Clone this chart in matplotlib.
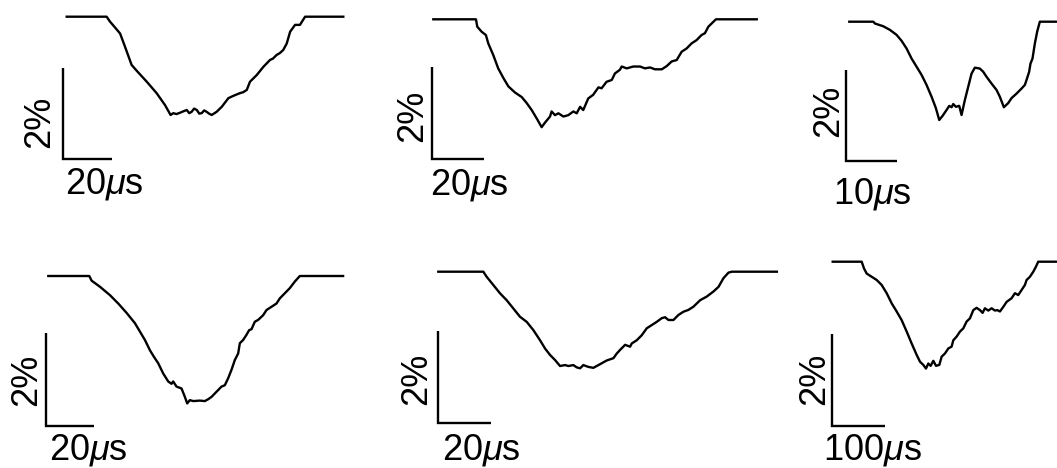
import numpy as np
import matplotlib.pyplot as plt

plt.rcParams['font.family'] = 'Liberation Sans'
plt.rcParams['mathtext.fontset'] = 'custom'
plt.rcParams['mathtext.rm'] = 'Liberation Sans'
plt.rcParams['mathtext.it'] = 'Liberation Sans:italic'

# transit traces: time (us) and relative intensity change (%)
t1 = [0, 16.3, 17.7, 20.4, 21.8, 23.8, 26.5, 28.6, 32.7, 36.7, 40.1, 42.4, 43.5, 44.8, 46.3, 47.6,
      49.0, 50.0, 51.0, 52.0, 53.1, 54.1, 55.1, 56.1, 57.1, 58.1, 59.2, 61.2, 63.3, 66.0, 68.0,
      70.7, 72.0, 73.5, 74.8, 77.6, 80.3, 83.0, 84.2, 85.7, 87.0, 88.4, 89.8, 91.2, 93.2, 95.2,
      97.3, 112.9]
f1 = [0, 0, -0.11, -0.28, -0.37, -0.66, -1.06, -1.19, -1.43, -1.68, -1.94, -2.16, -2.12, -2.14,
      -2.11, -2.08, -2.05, -2.12, -2.09, -2.02, -2.05, -2.13, -2.12, -2.06, -2.09, -2.13, -2.16,
      -2.09, -1.98, -1.79, -1.74, -1.68, -1.66, -1.61, -1.43, -1.28, -1.10, -0.95, -0.92, -0.84,
      -0.80, -0.73, -0.59, -0.33, -0.18, -0.18, 0, 0]

t2 = [0, 16.3, 16.8, 18.5, 20.1, 21.0, 22.9, 24.8, 26.8, 28.7, 31.2, 33.8, 35.7, 37.6, 39.5, 41.4,
      42.7, 44.6, 45.2, 46.5, 47.8, 49.7, 51.6, 53.5, 54.8, 56.1, 57.3, 59.2, 61.1, 63.1, 64.3,
      66.2, 68.2, 69.4, 71.3, 72.0, 73.9, 76.4, 79.0, 80.9, 82.8, 84.7, 87.3, 89.2, 91.1, 93.0,
      94.9, 96.8, 98.7, 100.6, 102.5, 103.8, 105.1, 108.0, 123.6]
f2 = [0, 0, -0.16, -0.27, -0.34, -0.52, -0.77, -1.06, -1.27, -1.45, -1.58, -1.68, -1.81, -1.96,
      -2.14, -2.33, -2.23, -2.10, -1.99, -2.07, -2.03, -2.10, -2.07, -1.99, -2.03, -1.89, -1.96,
      -1.71, -1.63, -1.47, -1.49, -1.35, -1.31, -1.17, -1.09, -1.02, -1.06, -1.02, -1.02, -1.06,
      -1.04, -1.08, -1.08, -1.01, -0.91, -0.88, -0.70, -0.63, -0.52, -0.45, -0.34, -0.30, -0.16,
      0, 0]

t3 = [0, 4.68, 5.0, 6.62, 7.92, 9.22, 10.19, 11.17, 12.14, 13.12, 14.09, 15.06, 16.04, 16.88,
      17.53, 18.18, 18.96, 19.48, 19.94, 20.26, 20.78, 21.43, 21.88, 22.53, 23.18, 23.83, 24.48,
      25.45, 26.10, 26.75, 27.73, 28.70, 29.35, 30.13, 30.97, 31.62, 32.60, 33.57, 34.22, 34.55,
      35.06, 35.32, 35.71, 36.17, 36.62, 37.14, 40.45]
f3 = [0, 0, -0.04, -0.10, -0.18, -0.29, -0.42, -0.59, -0.81, -0.99, -1.17, -1.39, -1.65, -1.90,
      -2.16, -2.07, -1.94, -1.85, -1.88, -1.81, -1.87, -1.85, -2.05, -1.72, -1.43, -1.14, -1.01,
      -1.03, -1.10, -1.21, -1.36, -1.50, -1.65, -1.88, -1.79, -1.68, -1.58, -1.47, -1.39, -1.28,
      -1.10, -0.92, -0.81, -0.48, -0.22, 0, 0]

t4 = [0, 16.97, 17.93, 21.38, 25.52, 28.97, 32.41, 35.86, 37.93, 40.0, 42.07, 43.72, 45.52, 47.59,
      49.66, 51.03, 51.72, 53.10, 55.17, 56.55, 57.52, 58.62, 60.0, 62.76, 64.83, 66.21, 67.59,
      69.66, 71.72, 73.10, 74.48, 75.86, 77.24, 78.62, 79.31, 80.69, 82.07, 83.17, 84.14, 85.52,
      86.90, 88.97, 90.34, 92.41, 94.48, 95.86, 97.93, 100.0, 102.07, 104.14, 122.07]
f4 = [0, 0, -0.10, -0.23, -0.41, -0.59, -0.79, -1.01, -1.19, -1.37, -1.59, -1.73, -1.87, -2.09,
      -2.26, -2.31, -2.26, -2.37, -2.41, -2.59, -2.73, -2.66, -2.68, -2.67, -2.68, -2.64, -2.59,
      -2.48, -2.37, -2.34, -2.19, -2.01, -1.80, -1.66, -1.44, -1.37, -1.26, -1.16, -1.14, -0.98,
      -0.94, -0.84, -0.73, -0.66, -0.59, -0.48, -0.37, -0.26, -0.12, 0, 0]

t5 = [0, 17.09, 18.35, 20.89, 23.42, 25.95, 28.48, 31.01, 33.54, 36.08, 38.61, 40.51, 42.41, 44.30,
      46.20, 48.10, 49.37, 51.27, 52.53, 53.80, 55.06, 56.96, 58.86, 60.13, 62.03, 63.92, 66.46,
      67.72, 68.99, 70.89, 72.78, 73.42, 75.32, 77.22, 79.11, 81.01, 82.91, 84.81, 86.08, 87.34,
      89.24, 91.14, 93.04, 94.94, 96.84, 99.37, 101.90, 104.43, 106.33, 108.23, 110.13, 111.39,
      128.5]
f5 = [0, 0, -0.11, -0.29, -0.47, -0.62, -0.80, -0.98, -1.09, -1.27, -1.49, -1.67, -1.81, -1.92,
      -2.05, -2.03, -2.05, -2.03, -2.08, -2.10, -2.03, -2.07, -2.09, -2.05, -1.99, -1.93, -1.88,
      -1.78, -1.70, -1.59, -1.63, -1.56, -1.49, -1.38, -1.23, -1.16, -1.09, -1.01, -0.99, -1.05,
      -1.05, -0.94, -0.87, -0.83, -0.76, -0.62, -0.54, -0.43, -0.33, -0.14, -0.02, 0, 0]

t6 = [0, 54.4, 58.8, 63.8, 73.1, 82.5, 91.9, 101.3, 110.6, 120.0, 129.4, 138.8, 148.1, 157.5,
      163.8, 170.0, 175.0, 179.4, 183.8, 188.8, 193.8, 200.0, 204.4, 210.6, 216.9, 223.1, 226.3,
      232.5, 238.8, 245.0, 251.3, 257.5, 263.8, 270.0, 276.3, 281.3, 285.6, 291.9, 298.1, 304.4,
      308.8, 313.8, 320.0, 326.3, 335.6, 341.9, 348.1, 354.4, 360.6, 363.8, 370.0, 376.3, 381.3,
      385.6, 420.6]
f6 = [0, 0, -0.15, -0.26, -0.33, -0.40, -0.51, -0.69, -0.91, -1.09, -1.28, -1.53, -1.79, -2.04,
      -2.19, -2.26, -2.34, -2.23, -2.28, -2.17, -2.28, -2.26, -2.08, -2.01, -1.90, -1.86, -1.72,
      -1.64, -1.53, -1.46, -1.31, -1.24, -1.06, -1.01, -1.06, -1.12, -1.02, -1.07, -1.02, -1.07,
      -1.06, -1.09, -0.99, -0.88, -0.80, -0.69, -0.73, -0.62, -0.51, -0.40, -0.33, -0.22, -0.11,
      0, 0]

times = [t1, t2, t3, t4, t5, t6]
fluxes = [f1, f2, f3, f4, f5, f6]

# scale bars
bar_pct = 2
bar_us = [20, 20, 10, 20, 20, 100]
pct_label = '2%'
time_labels = ['20$\\mu$s', '20$\\mu$s', '10$\\mu$s', '20$\\mu$s', '20$\\mu$s', '100$\\mu$s']

W, H = 1057, 468

# placement in pixels: trace origin (x0, y0), px per us, px per %,
# scale bar corner (bx, by), '2%' centre, time label left edge and baseline
layout = [
    dict(x0=66.7, y0=16.7, sx=2.45, sy=45.5, bx=63, by=159, pc=(40, 121.7), tl=(65, 193)),
    dict(x0=433.3, y0=19.3, sx=2.617, sy=46.3, bx=431.7, by=159.3, pc=(413, 115.8), tl=(430, 194)),
    dict(x0=849.3, y0=21.7, sx=5.13, sy=45.5, bx=846, by=161, pc=(828.3, 111.3), tl=(833.3, 204)),
    dict(x0=48.3, y0=276, sx=2.415, sy=46.67, bx=45.7, by=426, pc=(27, 380), tl=(49.3, 460)),
    dict(x0=438.3, y0=271.7, sx=2.635, sy=46, bx=438.3, by=422.7, pc=(417, 379), tl=(441.7, 460)),
    dict(x0=832.7, y0=261.7, sx=0.533, sy=45.67, bx=831.7, by=425.7, pc=(814.5, 379), tl=(823.3, 460)),
]

fig = plt.figure(figsize=(W / 100, H / 100), dpi=100)

for t, f, L, lab, p in zip(times, fluxes, bar_us, time_labels, layout):
    ax = fig.add_axes([0, 0, 1, 1])
    ax.set_xlim(-p['x0'] / p['sx'], (W - p['x0']) / p['sx'])
    ax.set_ylim((p['y0'] - H) / p['sy'], p['y0'] / p['sy'])
    ax.axis('off')

    ax.plot(t, f, color='black', lw=1.7, solid_joinstyle='round')

    tb = (p['bx'] - p['x0']) / p['sx']
    fb = (p['y0'] - p['by']) / p['sy']
    ax.plot([tb, tb, tb + L], [fb + bar_pct, fb, fb], color='black', lw=1.7,
            solid_joinstyle='miter', solid_capstyle='butt')

    fig.text(p['pc'][0] / W, 1 - p['pc'][1] / H, pct_label, rotation=90,
             ha='center', va='center', fontsize=26)
    fig.text(p['tl'][0] / W, 1 - p['tl'][1] / H, lab, ha='left', va='baseline', fontsize=26)

fig.savefig('out.png', dpi=100)
